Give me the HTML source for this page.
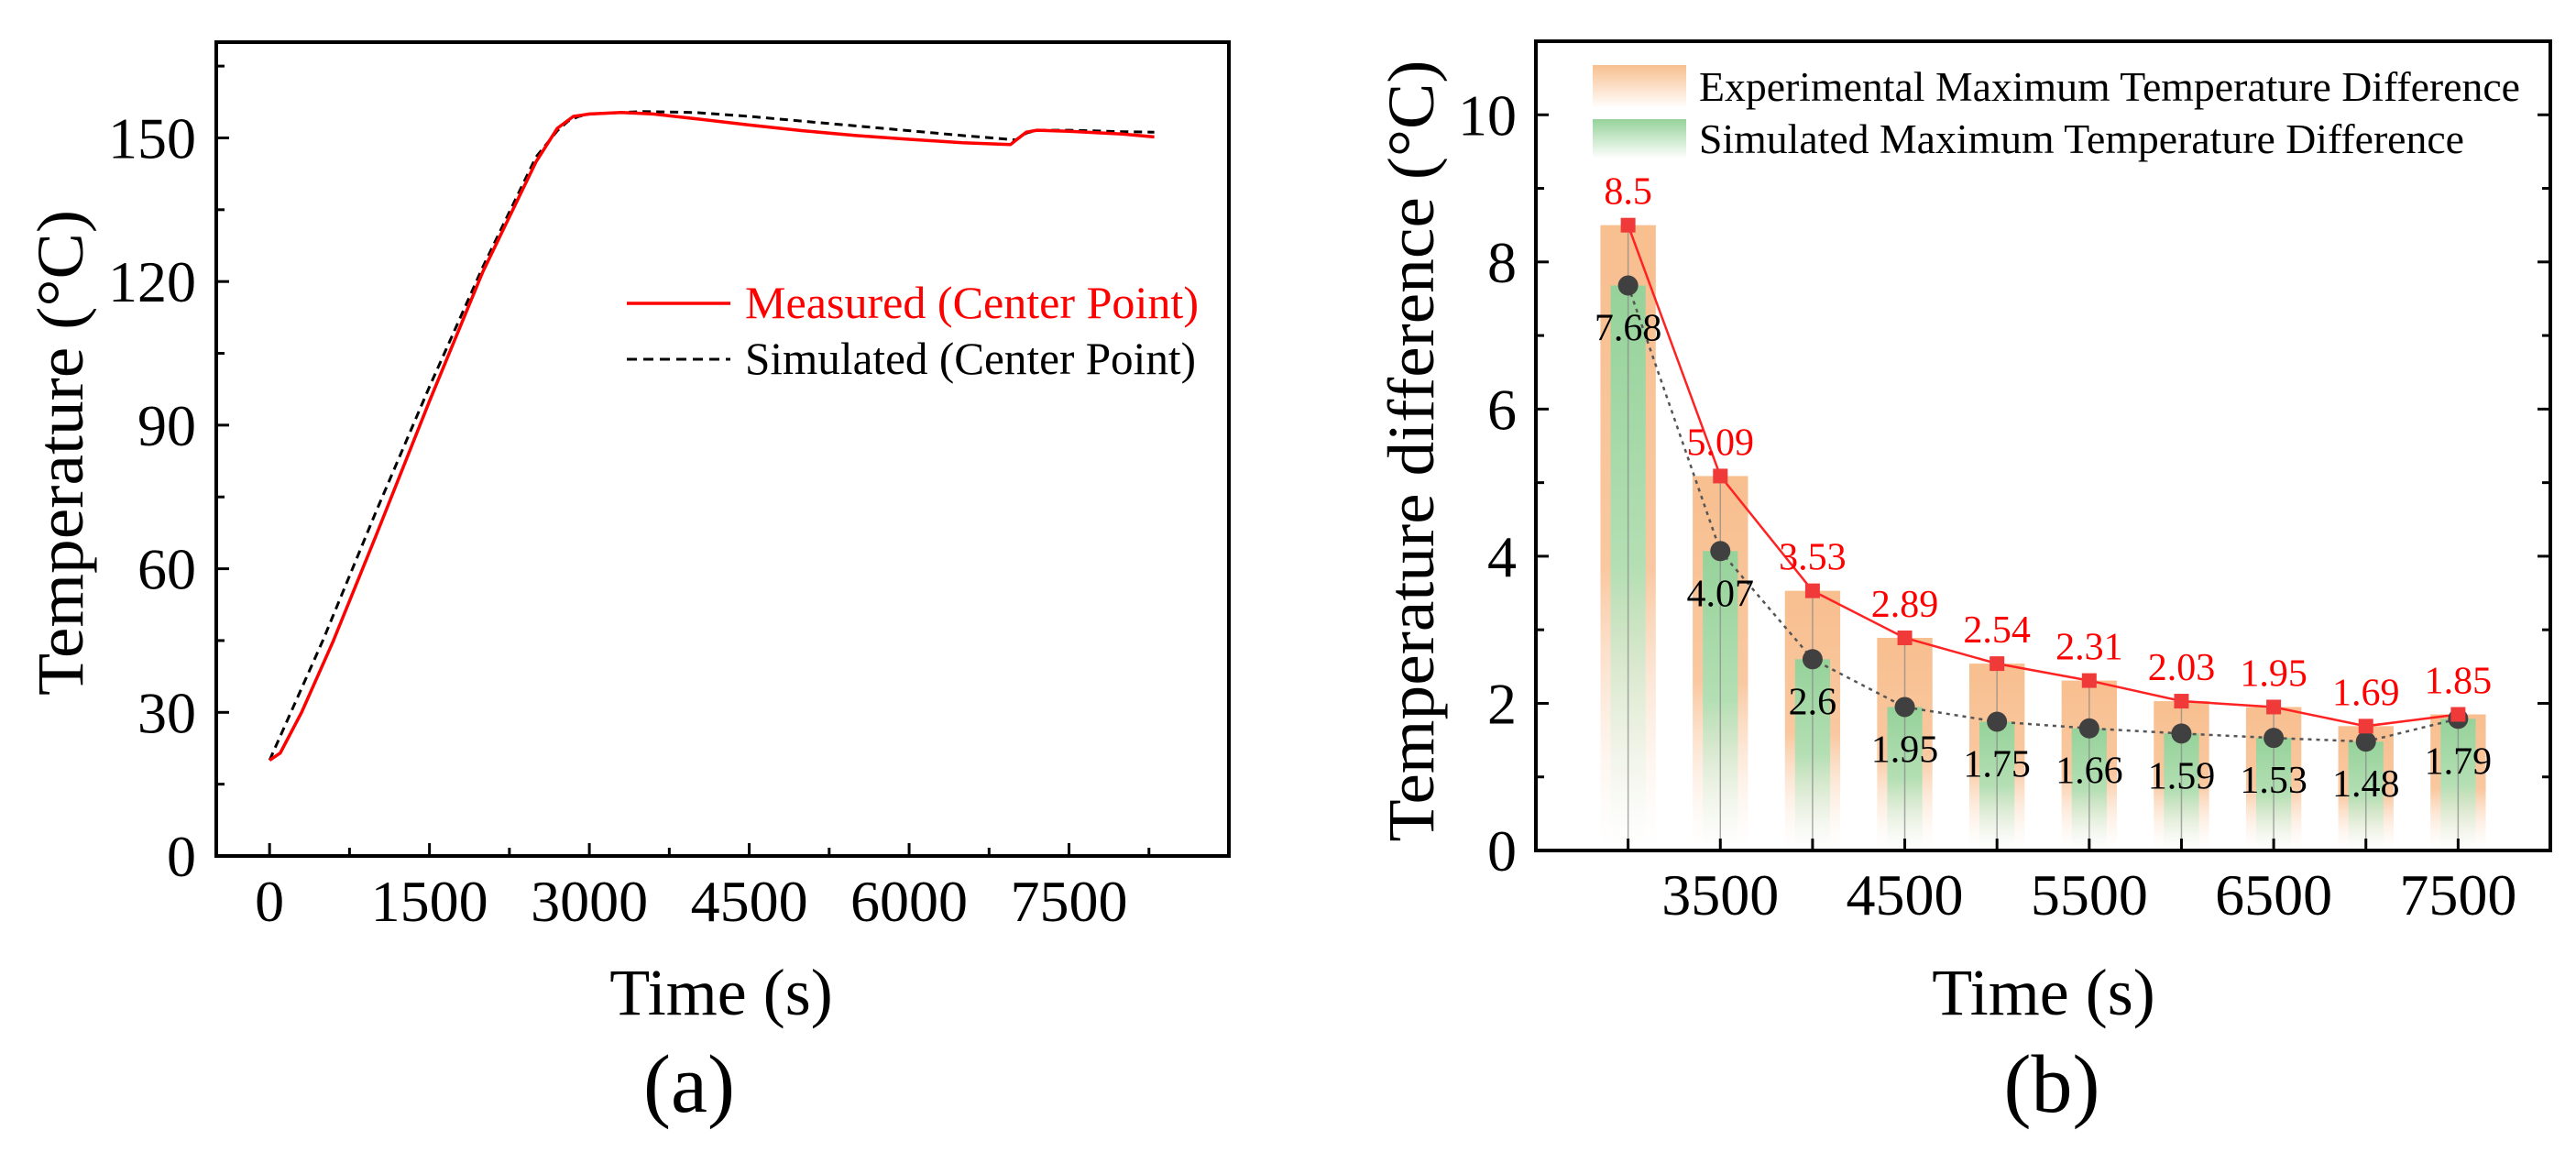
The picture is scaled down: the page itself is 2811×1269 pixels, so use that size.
<!DOCTYPE html>
<html><head><meta charset="utf-8"><style>
html,body{margin:0;padding:0;background:#fff}
svg{display:block}
text{font-family:"Liberation Serif",serif}
</style></head><body>
<svg id="fig" width="2811" height="1269" viewBox="0 0 2811 1269" xmlns="http://www.w3.org/2000/svg">
<defs>
<linearGradient id="gOr" x1="0" y1="0" x2="0" y2="1"><stop offset="0" stop-color="#f8bf8f"/><stop offset="0.55" stop-color="#f9c8a0"/><stop offset="1" stop-color="#fff" stop-opacity="0.3"/></linearGradient>
<linearGradient id="gGr" x1="0" y1="0" x2="0" y2="1"><stop offset="0" stop-color="#96d29a"/><stop offset="0.5" stop-color="#b4dfb4"/><stop offset="1" stop-color="#fff" stop-opacity="0.3"/></linearGradient>
<linearGradient id="lgOr" x1="0" y1="0" x2="0" y2="1"><stop offset="0" stop-color="#f8bf8f"/><stop offset="1" stop-color="#fff"/></linearGradient>
<linearGradient id="lgGr" x1="0" y1="0" x2="0" y2="1"><stop offset="0" stop-color="#96d29a"/><stop offset="1" stop-color="#fff"/></linearGradient>
</defs>
<g id="pa"></g>
<g id="pb"></g>
</svg>
<script>
// ---- Chart (a) data ----
const measTime = [0,100,300,600,1000,1500,2000,2500,2700,2850,3000,3300,3600,4000,4500,5000,5500,6000,6500,6950,7000,7100,7200,7500,8000,8300];
const measTemp = [20,21.5,30,45,67,95,122,145,152,154.5,155,155.3,155,154,152.7,151.5,150.5,149.7,149,148.6,149.5,151.2,151.6,151.4,150.8,150.2];
const simTime = [0,100,500,1000,1500,2000,2500,2700,2800,2900,3000,3500,4000,4500,5000,5500,6000,6500,7000,7100,7200,7500,8000,8300];
const simTemp = [20,25,45,72,98,123,146,151.5,153.5,154.5,155,155.5,155.3,154.5,153.5,152.5,151.5,150.5,149.6,151,151.6,151.6,151.3,151.2];
const aXTicks = [0,1500,3000,4500,6000,7500];
const aYTicks = [0,30,60,90,120,150];
// ---- Chart (b) data ----
const bTimes = [3000,3500,4000,4500,5000,5500,6000,6500,7000,7500];
const expDiff = [8.5,5.09,3.53,2.89,2.54,2.31,2.03,1.95,1.69,1.85];
const simDiff = [7.68,4.07,2.6,1.95,1.75,1.66,1.59,1.53,1.48,1.79];
const bXTicks = [3500,4500,5500,6500,7500];
const bYTicks = [0,2,4,6,8,10];

const NS="http://www.w3.org/2000/svg";
function mk(parent,tag,attrs,txt){const e=document.createElementNS(NS,tag);for(const k in attrs)e.setAttribute(k,attrs[k]);if(txt!==undefined)e.textContent=txt;parent.appendChild(e);return e;}

// ===== Chart A =====
(function(){
const g=document.getElementById('pa');
const L=236,R=1341,T=46,B=934;
const xa=v=>L+(v+500)/9500*(R-L);
const ya=v=>B-v/170*(B-T);
for(let v=0;v<=8250;v+=750){
  const t=mk(g,'line',{x1:xa(v),x2:xa(v),y1:B,y2:B-(v%1500===0?14:9),stroke:'#000','stroke-width':3});
  
  
}
for(let v=0;v<=165;v+=15){
  const t=mk(g,'line',{x1:L,x2:L+(v%30===0?14:9),y1:ya(v),y2:ya(v),stroke:'#000','stroke-width':3});
  
  
}
aXTicks.forEach(v=>{
  const t=mk(g,'text',{x:xa(v),y:1005,'font-size':64,'text-anchor':'middle'},String(v));
  
  
});
aYTicks.forEach(v=>{
  const t=mk(g,'text',{x:214,y:ya(v)+22,'font-size':64,'text-anchor':'end'},String(v));
  
  
});
const sp=simTime.map((t,i)=>xa(t).toFixed(1)+','+ya(simTemp[i]).toFixed(1)).join(' ');
const sl=mk(g,'polyline',{points:sp,fill:'none',stroke:'#000','stroke-width':3,'stroke-dasharray':'9,6'});


const mp=measTime.map((t,i)=>xa(t).toFixed(1)+','+ya(measTemp[i]).toFixed(1)).join(' ');
const ml=mk(g,'polyline',{points:mp,fill:'none',stroke:'#f00','stroke-width':3.5,'stroke-linejoin':'round'});


const fr=mk(g,'rect',{x:L,y:T,width:R-L,height:B-T,fill:'none',stroke:'#000','stroke-width':4});


const l1=mk(g,'line',{x1:684,x2:797,y1:331,y2:331,stroke:'#f00','stroke-width':3.5});


const t1=mk(g,'text',{x:813,y:347,'font-size':50,fill:'#f00',textLength:495,lengthAdjust:'spacingAndGlyphs'},'Measured (Center Point)');


const l2=mk(g,'line',{x1:684,x2:797,y1:392,y2:392,stroke:'#000','stroke-width':3,'stroke-dasharray':'11,7'});


const t2=mk(g,'text',{x:813,y:408,'font-size':50,fill:'#000',textLength:492,lengthAdjust:'spacingAndGlyphs'},'Simulated (Center Point)');


const yt=mk(g,'text',{x:0,y:0,'font-size':72,'text-anchor':'middle',transform:'translate(90,494) rotate(-90)',textLength:530,lengthAdjust:'spacingAndGlyphs'},'Temperature (°C)');


const xt=mk(g,'text',{x:787,y:1107,'font-size':72,'text-anchor':'middle'},'Time (s)');


const pl=mk(g,'text',{x:752,y:1213,'font-size':90,'text-anchor':'middle'},'(a)');


})();

// ===== Chart B =====
(function(){
const g=document.getElementById('pb');
const L=1676,R=2783,T=45,B=928;
const xb=v=>L+(v-2500)/5500*(R-L);
const yb=v=>B-v/11*(B-T);
const bw=300*(R-L)/5500, gw=190*(R-L)/5500;
bTimes.forEach((t,i)=>{
  const ob=mk(g,'rect',{x:xb(t)-bw/2,y:yb(expDiff[i]),width:bw,height:B-yb(expDiff[i]),fill:'url(#gOr)'});
  
  
  const gb=mk(g,'rect',{x:xb(t)-gw/2,y:yb(simDiff[i]),width:gw,height:B-yb(simDiff[i]),fill:'url(#gGr)'});
  
  
  const vl=mk(g,'line',{x1:xb(t),x2:xb(t),y1:yb(expDiff[i]),y2:B,stroke:'#888','stroke-width':1.5,opacity:0.7});
  
  
});
const sp=bTimes.map((t,i)=>xb(t).toFixed(1)+','+yb(simDiff[i]).toFixed(1)).join(' ');
const sl=mk(g,'polyline',{points:sp,fill:'none',stroke:'#555','stroke-width':2.5,'stroke-dasharray':'4,5'});


const ep=bTimes.map((t,i)=>xb(t).toFixed(1)+','+yb(expDiff[i]).toFixed(1)).join(' ');
const el=mk(g,'polyline',{points:ep,fill:'none',stroke:'#f22','stroke-width':2.5});


bTimes.forEach((t,i)=>{
  const c=mk(g,'circle',{cx:xb(t),cy:yb(simDiff[i]),r:11,fill:'#404040'});
  
  
  const s=mk(g,'rect',{x:xb(t)-8,y:yb(expDiff[i])-8,width:16,height:16,fill:'#f03a3a'});
  
  
  const rl=mk(g,'text',{x:xb(t),y:yb(expDiff[i])-23,'font-size':42,'text-anchor':'middle',fill:'#f00'},String(expDiff[i]));
  
  
  const bl=mk(g,'text',{x:xb(t),y:yb(simDiff[i])+60,'font-size':42,'text-anchor':'middle',fill:'#000'},String(simDiff[i]));
  
  
});
for(let v=3000;v<=7500;v+=500){
  const t=mk(g,'line',{x1:xb(v),x2:xb(v),y1:B,y2:B-13,stroke:'#000','stroke-width':3});
  
  
}
for(let v=0;v<=10;v+=1){
  const len=v%2===0?14:9;
  const t=mk(g,'line',{x1:L,x2:L+len,y1:yb(v),y2:yb(v),stroke:'#000','stroke-width':3});
  
  
  const t2=mk(g,'line',{x1:R,x2:R-len,y1:yb(v),y2:yb(v),stroke:'#000','stroke-width':3});
  
  
}
bXTicks.forEach(v=>{
  const t=mk(g,'text',{x:xb(v),y:998,'font-size':64,'text-anchor':'middle'},String(v));
  
  
});
bYTicks.forEach(v=>{
  const t=mk(g,'text',{x:1655,y:yb(v)+22,'font-size':64,'text-anchor':'end'},String(v));
  
  
});
const fr=mk(g,'rect',{x:L,y:T,width:R-L,height:B-T,fill:'none',stroke:'#000','stroke-width':4});


const s1=mk(g,'rect',{x:1738,y:71,width:102,height:47,fill:'url(#lgOr)'});


const t1=mk(g,'text',{x:1854,y:110,'font-size':45,textLength:896,lengthAdjust:'spacingAndGlyphs'},'Experimental Maximum Temperature Difference');


const s2=mk(g,'rect',{x:1738,y:130,width:102,height:43,fill:'url(#lgGr)'});


const t2=mk(g,'text',{x:1854,y:167,'font-size':45,textLength:835,lengthAdjust:'spacingAndGlyphs'},'Simulated Maximum Temperature Difference');


const yt=mk(g,'text',{x:0,y:0,'font-size':72,'text-anchor':'middle',transform:'translate(1564,492) rotate(-90)',textLength:853,lengthAdjust:'spacingAndGlyphs'},'Temperature difference (°C)');


const xt=mk(g,'text',{x:2230,y:1107,'font-size':72,'text-anchor':'middle'},'Time (s)');


const pl=mk(g,'text',{x:2239,y:1213,'font-size':90,'text-anchor':'middle'},'(b)');


})();
</script>
</body></html>
